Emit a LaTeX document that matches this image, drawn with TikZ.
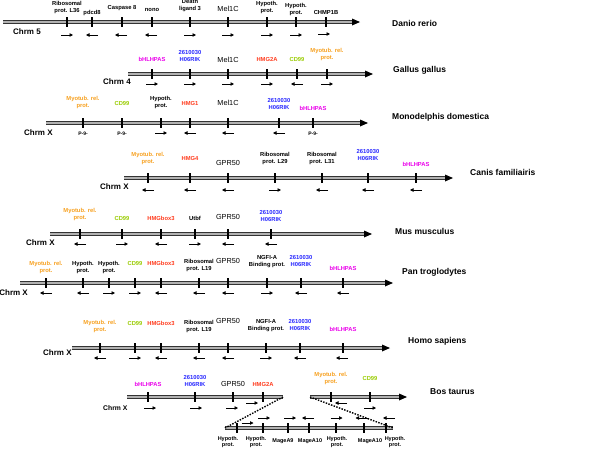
\documentclass[tikz,border=0pt]{standalone}
\usepackage{fontspec}
\setmainfont{Liberation Sans}
\usetikzlibrary{arrows.meta}
\definecolor{myoc}{RGB}{247,160,30}
\definecolor{cdc}{RGB}{153,204,0}
\definecolor{hmgc}{RGB}{255,60,30}
\definecolor{rikc}{RGB}{40,40,255}
\definecolor{bhlc}{RGB}{235,0,235}
\tikzset{
  lab/.style={font=\fontsize{5.8}{7}\selectfont\bfseries, align=center, inner sep=0pt, execute at end node=\strut},
  sublab/.style={font=\fontsize{5.5}{6.5}\selectfont\bfseries, align=center, inner sep=0pt, anchor=north},
  big/.style={font=\fontsize{7.3}{8.5}\selectfont, inner sep=0pt, execute at end node=\strut},
  myo/.style={text=myoc}, cdn/.style={text=cdc}, hmg/.style={text=hmgc},
  rik/.style={text=rikc}, bhl/.style={text=bhlc},
  spec/.style={font=\fontsize{8.5}{10}\selectfont\bfseries, anchor=west, inner sep=0pt},
  chrm/.style={font=\fontsize{8}{10}\selectfont\bfseries, anchor=west, inner sep=0pt},
  pnine/.style={font=\fontsize{5}{6}\selectfont\bfseries, inner sep=0pt},
  chromline/.style={draw=black!80, line width=0.9pt, double=gray!60, double distance=1.3pt},
  tickline/.style={line width=1.3pt, black},
  genearrow/.style={line width=0.8pt, -{Triangle[length=3.5pt,width=3.5pt]}},
  dotline/.style={line width=1.4pt, dash pattern=on 1.5pt off 1.3pt},
}
\newcommand\chrom[3]{%
  \draw[chromline] (#1,#3) -- ({#2-7},#3);
  \fill[black] ({#2-8},{#3-3.5}) -- (#2,#3) -- ({#2-8},{#3+3.5}) -- cycle;}
\newcommand\tickarr[5]{% x, line y, arrow x, arrow y, dir
  \draw[tickline] (#1,{#2-5}) -- (#1,{#2+5});
  \ifnum#5=0\relax\else
  \draw[genearrow] ({#3-6*(#5)},#4) -- ({#3+6*(#5)},#4);\fi}
\newcommand\gene[9]{% name, x, liney, arrowx, arrowy, dir, labelbottom, style, text
  \tickarr{#2}{#3}{#4}{#5}{#6}
  \node[#8, anchor=south] (#1) at (#2,#7) {#9};}
\begin{document}
\begin{tikzpicture}[x=1pt,y=-1pt]
\useasboundingbox (0,0) rectangle (600,451);
\fill[white] (0,0) rectangle (600,451);
% Danio rerio
\chrom{3}{360}{22}
\gene{d1}{67}{22}{67}{35}{1}{15.2}{lab}{Ribosomal\\prot. L36}
\gene{d2}{92}{22}{92}{35}{-1}{17}{lab}{pdcd8}
\gene{d3}{122}{22}{121}{35}{-1}{12.2}{lab}{Caspase 8}
\gene{d4}{152}{22}{151}{35}{-1}{14.2}{lab}{nono}
\gene{d5}{190}{22}{190}{35}{1}{13.2}{lab}{Death\\ligand 3}
\gene{d6}{228}{22}{228}{35}{1}{14}{big}{Mel1C}
\gene{d7}{267}{22}{267}{35}{1}{15.2}{lab}{Hypoth.\\prot.}
\gene{d8}{296}{22}{296}{35}{1}{17}{lab}{Hypoth.\\prot.}
\gene{d9}{326}{22}{324}{34}{1}{17}{lab}{CHMP1B}
\node[chrm] (c5) at (13,32) {Chrm 5};
\node[spec] (s1) at (392,23) {Danio rerio};
% Gallus gallus
\chrom{128}{373}{74}
\gene{g1}{152}{74}{152}{84}{1}{64.2}{lab,bhl}{bHLHPAS}
\gene{g2}{190}{74}{190}{84}{1}{64.2}{lab,rik}{2610030\\H06RIK}
\gene{g3}{228}{74}{228}{84}{1}{65}{big}{Mel1C}
\gene{g4}{267}{74}{267}{84}{1}{64.2}{lab,hmg}{HMG2A}
\gene{g5}{297}{74}{297}{84}{-1}{64.2}{lab,cdn}{CD99}
\gene{g6}{327}{74}{327}{84}{1}{62}{lab,myo}{Myotub. rel.\\prot.}
\node[chrm] (c4) at (103,82) {Chrm 4};
\node[spec] (s2) at (393,70) {Gallus gallus};
% Monodelphis domestica
\chrom{46}{368}{123}
\gene{m1}{83}{123}{83}{133}{0}{110}{lab,myo}{Myotub. rel.\\prot.}
\gene{m2}{122}{123}{122}{133}{0}{107.5}{lab,cdn}{CD99}
\gene{m3}{161}{123}{161}{133}{1}{110.2}{lab}{Hypoth.\\prot.}
\gene{m4}{190}{123}{190}{133}{-1}{108.2}{lab,hmg}{HMG1}
\gene{m5}{228}{123}{228}{133}{-1}{108.3}{big}{Mel1C}
\gene{m6}{279}{123}{279}{133}{-1}{112}{lab,rik}{2610030\\H06RIK}
\gene{m7}{313}{123}{313}{133}{0}{112.5}{lab,bhl}{bHLHPAS}
\node[pnine] (p1) at (83,134) {P-9-};
\node[pnine] (p2) at (122,134) {P-9-};
\node[pnine] (p3) at (313,134) {P-9-};
\node[chrm] (cx1) at (24,133) {Chrm X};
\node[spec] (s3) at (392,117) {Monodelphis domestica};
% Canis familiaris
\chrom{124}{453}{178}
\gene{k1}{148}{178}{148}{190}{-1}{166}{lab,myo}{Myotub. rel.\\prot.}
\gene{k2}{190}{178}{190}{190}{-1}{163.2}{lab,hmg}{HMG4}
\gene{k3}{228}{178}{228}{190}{-1}{168.3}{big}{GPR50}
\gene{k4}{275}{178}{275}{190}{1}{166}{lab}{Ribosomal\\prot. L29}
\gene{k5}{322}{178}{322}{190}{-1}{166}{lab}{Ribosomal\\prot. L31}
\gene{k6}{368}{178}{368}{190}{-1}{163.2}{lab,rik}{2610030\\H06RIK}
\gene{k7}{416}{178}{416}{190}{-1}{168.5}{lab,bhl}{bHLHPAS}
\node[chrm] (cx2) at (100,187) {Chrm X};
\node[spec] (s4) at (470,172) {Canis familiairis};
% Mus musculus
\chrom{50}{372}{234}
\gene{u1}{80}{234}{80}{244}{-1}{222}{lab,myo}{Myotub. rel.\\prot.}
\gene{u2}{122}{234}{122}{244}{1}{222.5}{lab,cdn}{CD99}
\gene{u3}{161}{234}{161}{244}{-1}{222.5}{lab,hmg}{HMGbox3}
\gene{u4}{195}{234}{195}{244}{1}{222.5}{lab}{Utbf}
\gene{u5}{228}{234}{228}{244}{-1}{222.7}{big}{GPR50}
\gene{u6}{271}{234}{271}{244}{-1}{223.5}{lab,rik}{2610030\\H06RIK}
\node[chrm] (cx3) at (26,243) {Chrm X};
\node[spec] (s5) at (395,231) {Mus musculus};
% Pan troglodytes
\chrom{20}{393}{283}
\gene{t1}{46}{283}{46}{293}{-1}{275}{lab,myo}{Myotub. rel.\\prot.}
\gene{t2}{83}{283}{83}{293}{-1}{275}{lab}{Hypoth.\\prot.}
\gene{t3}{109}{283}{109}{293}{1}{275}{lab}{Hypoth.\\prot.}
\gene{t4}{135}{283}{135}{293}{1}{267.5}{lab,cdn}{CD99}
\gene{t5}{161}{283}{161}{293}{-1}{267.5}{lab,hmg}{HMGbox3}
\gene{t6}{199}{283}{199}{293}{-1}{272.5}{lab}{Ribosomal\\prot. L19}
\gene{t7}{228}{283}{228}{293}{-1}{266.7}{big}{GPR50}
\gene{t8}{267}{283}{267}{293}{1}{269.2}{lab}{NGFI-A\\Binding prot.}
\gene{t9}{301}{283}{301}{293}{-1}{269.2}{lab,rik}{2610030\\H06RIK}
\gene{t10}{343}{283}{343}{293}{-1}{272.5}{lab,bhl}{bHLHPAS}
\node[chrm, anchor=east] (cx4) at (28,293) {Chrm X};
\node[spec] (s6) at (402,272) {Pan troglodytes};
% Homo sapiens
\chrom{72}{390}{348}
\gene{h1}{100}{348}{100}{358}{-1}{334.2}{lab,myo}{Myotub. rel.\\prot.}
\gene{h2}{135}{348}{135}{358}{1}{327.5}{lab,cdn}{CD99}
\gene{h3}{161}{348}{161}{358}{-1}{327.5}{lab,hmg}{HMGbox3}
\gene{h4}{199}{348}{199}{358}{-1}{334.2}{lab}{Ribosomal\\prot. L19}
\gene{h5}{228}{348}{228}{358}{-1}{326.7}{big}{GPR50}
\gene{h6}{266}{348}{266}{358}{1}{333.2}{lab}{NGFI-A\\Binding prot.}
\gene{h7}{300}{348}{300}{358}{-1}{333.2}{lab,rik}{2610030\\H06RIK}
\gene{h8}{343}{348}{342}{358}{-1}{334.2}{lab,bhl}{bHLHPAS}
\node[chrm] (cx5) at (43,353) {Chrm X};
\node[spec] (s7) at (408,341) {Homo sapiens};
% Bos taurus
\draw[chromline] (127,397) coordinate (bosA0) -- (283,397) coordinate (bosA);
\chrom{310}{407}{397}
\coordinate (bosB) at (310,397);
\gene{b1}{148}{397}{150}{408}{1}{388.5}{lab,bhl}{bHLHPAS}
\gene{b2}{195}{397}{196}{408}{1}{388.5}{lab,rik}{2610030\\H06RIK}
\gene{b3}{233}{397}{232}{408}{1}{389.3}{big}{GPR50}
\gene{b4}{263}{397}{252}{403}{1}{389.2}{lab,hmg}{HMG2A}
\gene{b5}{331}{397}{341}{403}{-1}{386}{lab,myo}{Myotub. rel.\\prot.}
\gene{b6}{370}{397}{370}{408}{1}{382.5}{lab,cdn}{CD99}
\node[chrm, font=\fontsize{6.8}{8}\selectfont\bfseries] (cx6) at (103,408) {Chrm X};
\node[spec] (s8) at (430,392) {Bos taurus};
% Bos taurus inset
\draw[chromline] (225,428) coordinate (subA) -- (393,428) coordinate (subB);
\tickarr{237}{428}{247.5}{423}{1}
\tickarr{263}{428}{264}{418}{1}
\tickarr{288}{428}{290}{418}{1}
\tickarr{309}{428}{308}{418}{-1}
\tickarr{336}{428}{336.5}{418}{1}
\tickarr{364}{428}{361.5}{418}{-1}
\tickarr{386}{428}{389}{418}{-1}
\draw[dotline] (bosA) -- (subA);
\draw[dotline] (bosB) -- (subB);
\node[sublab] (i1) at (228,436) {Hypoth.\\prot.};
\node[sublab] (i2) at (256,436) {Hypoth.\\prot.};
\node[sublab] (i3) at (283,438.5) {MageA9};
\node[sublab] (i4) at (310,438.5) {MageA10};
\node[sublab] (i5) at (337,436) {Hypoth.\\prot.};
\node[sublab] (i6) at (370,438.5) {MageA10};
\node[sublab] (i7) at (395,436) {Hypoth.\\prot.};
\end{tikzpicture}
\end{document}
